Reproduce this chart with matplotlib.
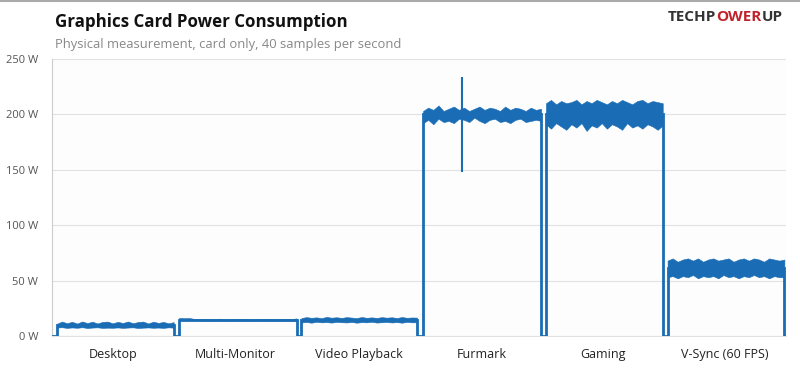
import matplotlib
matplotlib.use('Agg')
import matplotlib.pyplot as plt

# test phases, each drawn over one unit of the time axis
categories = ['Desktop', 'Multi-Monitor', 'Video Playback', 'Furmark', 'Gaming', 'V-Sync (60 FPS)']
seg_start = [0.04, 1.045, 2.05, 3.05, 4.06, 5.06]
seg_end = [1.0, 2.01, 3.0, 4.02, 5.02, 6.02]

# lower / upper envelope of the noisy trace (W), read left to right
env_low = [
    [7.6, 7.9, 7.3, 7.7, 7.4, 7.9, 7.2, 7.6, 7.8, 7.3, 7.5, 7.4, 7.7, 7.3, 7.6, 7.8, 7.2, 7.5, 7.7, 7.4, 7.6, 7.3, 7.8, 7.5],
    [15.0, 15.1, 15.0, 14.2, 14.0, 14.1, 13.9, 14.0, 14.1, 13.9, 14.0, 14.1, 13.9, 14.0, 14.0, 13.9, 14.1, 14.0, 13.9, 14.0, 14.1, 13.9, 14.0, 14.0],
    [12.2, 12.6, 12.0, 12.8, 12.3, 12.5, 12.1, 12.7, 12.4, 12.2, 12.6, 12.0, 12.5, 12.3, 12.8, 12.1, 12.4, 12.6, 12.2, 12.5, 12.0, 12.7, 12.3, 12.4],
    [192, 195, 191, 196, 193, 194, 192, 196, 195, 193, 197, 194, 192, 195, 196, 193, 194, 192, 195, 196, 193, 194, 195, 194],
    [191, 187, 192, 189, 186, 191, 188, 192, 185, 190, 188, 192, 187, 191, 189, 186, 192, 188, 190, 187, 191, 189, 186, 190],
    [53, 54, 52, 54, 53, 55, 52, 54, 53, 54, 52, 55, 53, 54, 52, 54, 53, 55, 53, 54, 52, 54, 53, 53],
]
env_high = [
    [11.0, 13.0, 11.5, 12.8, 11.2, 13.1, 11.6, 12.9, 11.3, 12.7, 13.0, 11.4, 12.8, 11.7, 13.1, 11.5, 12.6, 13.0, 11.3, 12.9, 11.8, 12.7, 11.4, 12.5],
    [16.3, 16.1, 16.2, 15.4, 15.3, 15.5, 15.2, 15.4, 15.6, 15.3, 15.2, 15.4, 15.3, 15.5, 15.2, 15.4, 15.3, 15.5, 15.2, 15.4, 15.3, 15.5, 15.2, 15.9],
    [16.2, 17.0, 16.4, 16.8, 16.1, 17.2, 16.5, 16.9, 16.3, 17.0, 16.6, 16.2, 17.1, 16.4, 16.8, 16.3, 17.0, 16.5, 16.9, 16.2, 17.1, 16.4, 16.7, 16.6],
    [203, 206, 204, 208, 203, 205, 207, 204, 206, 203, 205, 207, 204, 206, 205, 203, 207, 204, 206, 205, 203, 206, 204, 205],
    [210, 213, 209, 212, 210, 211, 213, 209, 212, 210, 213, 211, 209, 212, 210, 213, 211, 209, 212, 213, 210, 212, 211, 210],
    [68, 70, 67, 69, 70, 68, 70, 67, 69, 70, 68, 69, 70, 67, 69, 70, 68, 70, 69, 67, 70, 69, 68, 69],
]
trace_mid = [9.5, 14.6, 14.3, 200, 200, 61]

# single glitch during Furmark
spike_t = [3.37]
spike_lo = [148]
spike_hi = [234]

yticks = [0, 50, 100, 150, 200, 250]

blue = '#1a6db5'

fig = plt.figure(figsize=(8, 3.68), dpi=100)
fig.patch.set_facecolor('white')
ax = fig.add_axes([0.065, 0.087, 0.917, 0.753])
ax.set_facecolor('#fdfdfd')

# baseline + step edges between phases
xs, ys = [0.0], [0.0]
for s, e, m in zip(seg_start, seg_end, trace_mid):
    xs += [s, s, e, e]
    ys += [0, m, m, 0]
xs.append(6.03)
ys.append(0)
ax.plot(xs, ys, color=blue, lw=2.0, solid_joinstyle='miter', zorder=3)

# noisy bands
for s, e, lo, hi in zip(seg_start, seg_end, env_low, env_high):
    n = len(lo)
    tx = [s + (e - s) * i / (n - 1) for i in range(n)]
    ax.fill_between(tx, lo, hi, color=blue, lw=0.4, edgecolor=blue, zorder=3)

ax.vlines(spike_t, spike_lo, spike_hi, color=blue, lw=1.5, zorder=4)

ax.set_xlim(0, 6.03)
ax.set_ylim(0, 250)
ax.set_yticks(yticks)
ax.set_yticklabels([f'{v} W' for v in yticks], color='#555555', fontsize=8, family='Open Sans')
ax.set_xticks([0.50, 1.51, 2.52, 3.53, 4.53, 5.53])
ax.set_xticklabels(categories, fontsize=9, color='#222222', family='Open Sans')
ax.tick_params(axis='both', length=0)
ax.tick_params(axis='x', pad=9)
ax.tick_params(axis='y', pad=10)
ax.grid(axis='y', color='#e2e2e2', lw=0.8)
ax.set_axisbelow(True)
for sp in ['top', 'right']:
    ax.spines[sp].set_visible(False)
ax.spines['left'].set_color('#cccccc')
ax.spines['bottom'].set_color('#e2e2e2')

fig.text(0.069, 0.94, 'Graphics Card Power Consumption', fontsize=12.2, fontweight='bold',
         family='Open Sans', color='#111111', va='center')
fig.text(0.069, 0.878, 'Physical measurement, card only, 40 samples per second', fontsize=9.4,
         family='Open Sans', color='#888888', va='center')

# logo, pieces laid out one after another
renderer = fig.canvas.get_renderer()
x = 0.835
for piece, col in [('TECHP', '#333333'), ('O', '#c0232b'), ('WER', '#c0232b'), ('UP', '#333333')]:
    t = fig.text(x, 0.953, piece, fontsize=11, fontweight='bold', family='Open Sans',
                 color=col, va='center', ha='left')
    bb = t.get_window_extent(renderer)
    x += bb.width / fig.bbox.width

fig.add_artist(plt.Line2D([0, 1], [0.997, 0.997], color='#aaaaaa', lw=1.5))

fig.savefig('out.png', dpi=100)
